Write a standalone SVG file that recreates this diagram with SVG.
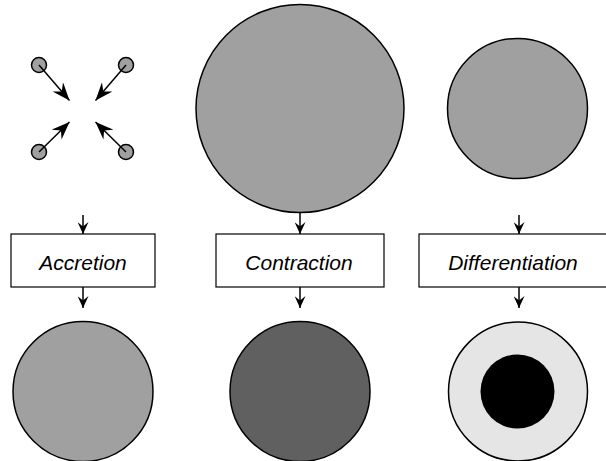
<svg xmlns="http://www.w3.org/2000/svg" width="606" height="461" viewBox="0 0 606 461">
<defs>
<style>
.gray{fill:#a0a0a0;stroke:#000;stroke-width:1.5}
.box{fill:#fff;stroke:#000;stroke-width:1.2}
.lbl{font-family:"Liberation Sans",Arial,sans-serif;font-style:italic;font-size:21px;fill:#000;text-anchor:middle}
.ln{stroke:#000;stroke-width:1.5;fill:none}
.sm{marker-end:url(#hs)}
.lg{marker-end:url(#hl)}
</style>
<marker id="hs" viewBox="-12 -5.5 12 11" refX="0" refY="0" markerWidth="12" markerHeight="11" markerUnits="userSpaceOnUse" orient="auto">
<path d="M0,0 L-12,-5.5 L-7.5,0 L-12,5.5 Z" fill="#000"/>
</marker>
<marker id="hl" viewBox="-18 -7 18 14" refX="0" refY="0" markerWidth="18" markerHeight="14" markerUnits="userSpaceOnUse" orient="auto">
<path d="M0,0 L-18,-7 L-12,0 L-18,7 Z" fill="#000"/>
</marker>
</defs>
<rect width="606" height="461" fill="#fff"/>

<g id="particles">
<circle class="gray" cx="39" cy="65" r="7.5"/>
<circle class="gray" cx="126" cy="65" r="7.5"/>
<circle class="gray" cx="39" cy="152" r="7.5"/>
<circle class="gray" cx="126" cy="152" r="7.5"/>
</g>
<g id="cloud">
<circle class="gray" cx="300" cy="108.5" r="104"/>
</g>
<g id="collapsed">
<circle class="gray" cx="517.5" cy="108.5" r="70"/>
</g>

<g id="accretion">
<rect class="box" x="11" y="234" width="144" height="53"/>
<text class="lbl" x="83" y="270">Accretion</text>
</g>
<g id="contraction">
<rect class="box" x="216" y="234" width="168" height="53"/>
<text class="lbl" x="299" y="270">Contraction</text>
</g>
<g id="differentiation">
<rect class="box" x="419" y="234" width="200" height="53"/>
<text class="lbl" x="513" y="270">Differentiation</text>
</g>

<g id="planet">
<circle class="gray" cx="83" cy="391.5" r="70"/>
</g>
<g id="dense">
<circle cx="300" cy="391.5" r="70" fill="#606060" stroke="#000" stroke-width="1.5"/>
</g>
<g id="layered">
<circle cx="518" cy="391.5" r="69.5" fill="#e5e5e5" stroke="#000" stroke-width="1.5"/>
<circle cx="517.5" cy="391.5" r="37" fill="#000"/>
</g>

<g id="connectors">
<line class="ln lg" x1="39" y1="65" x2="69.5" y2="100.5"/>
<line class="ln lg" x1="126" y1="65" x2="95.5" y2="100.5"/>
<line class="ln lg" x1="39" y1="152" x2="69.5" y2="122"/>
<line class="ln lg" x1="126" y1="152" x2="95.5" y2="122"/>
<line class="ln sm" x1="83" y1="215" x2="83" y2="234"/>
<line class="ln sm" x1="83" y1="287" x2="83" y2="308"/>
<line class="ln sm" x1="300" y1="212.5" x2="300" y2="234"/>
<line class="ln sm" x1="300" y1="287" x2="300" y2="308"/>
<line class="ln sm" x1="519" y1="215" x2="519" y2="234"/>
<line class="ln sm" x1="519" y1="287" x2="519" y2="308"/>
</g>
</svg>
